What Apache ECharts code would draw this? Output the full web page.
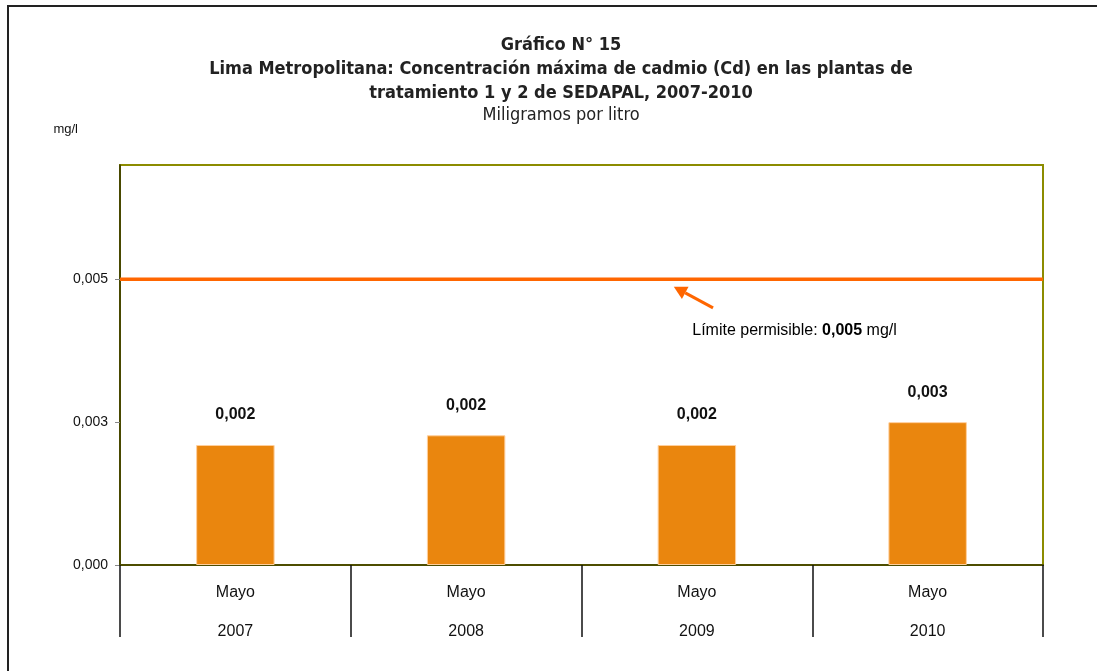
<!DOCTYPE html>
<html>
<head>
<meta charset="utf-8">
<script src="https://cdn.jsdelivr.net/npm/echarts@6/dist/echarts.min.js"></script>
<style>
html,body{margin:0;padding:0;background:#fff;}
#chart{width:1097px;height:671px;}
</style>
</head>
<body>
<div id="chart"></div>
<script>
// ---- data ----
const months = ['Mayo', 'Mayo', 'Mayo', 'Mayo'];
const years = ['2007', '2008', '2009', '2010'];
const cadmio = [0.0021, 0.00227, 0.0021, 0.0025];
const limite = 0.005;
const yTicks = { min: 0, max: 0.007, interval: 0.0025 };
// annotation (data space: category index, value)
const arrowTail = [2.07, 0.00450];
const arrowHead = [1.90, 0.00487];
const noteAnchor = [1.98, 0.00410];

const titleLines = ['Gráfico N° 15',
  'Lima Metropolitana: Concentración máxima de cadmio (Cd) en las plantas de',
  'tratamiento 1 y 2 de SEDAPAL, 2007-2010'];
const subtitle = 'Miligramos por litro';

const fmt = v => v.toFixed(3).replace('.', ',');
const TF = '"Liberation Sans", Arial, sans-serif';
const TTF = '"DejaVu Sans Condensed", "Liberation Sans", sans-serif';

const chart = echarts.init(document.getElementById('chart'));
const option = {
  animation: false,
  backgroundColor: '#fff',
  title: [
    { text: titleLines.join('\n'), left: 556, top: 28, textAlign: 'center',
      textStyle: { fontFamily: TTF, fontSize: 18, fontWeight: 'bold', color: '#222', lineHeight: 24 } },
    { text: subtitle, left: 556, top: 100, textAlign: 'center',
      textStyle: { fontFamily: TTF, fontSize: 18, fontWeight: 'normal', color: '#222', lineHeight: 20 } }
  ],
  grid: { left: 120, right: 54, top: 165, bottom: 106, show: true,
    borderColor: '#8c8c00', borderWidth: 2, backgroundColor: '#fff' },
  xAxis: [{
    type: 'category', data: years,
    axisLine: { lineStyle: { color: '#4d4d00', width: 2 } },
    axisTick: { show: true, length: 72, alignWithLabel: false, interval: 0, lineStyle: { color: '#111', width: 1.5 } },
    axisLabel: { interval: 0, margin: 8,
      formatter: (v, i) => '{a|' + months[i] + '}\n{a|' + v + '}',
      rich: { a: { fontFamily: TF, fontSize: 16, color: '#111', lineHeight: 39 } } }
  }, {
    type: 'value', min: 0, max: 1, show: false
  }],
  yAxis: {
    type: 'value', min: yTicks.min, max: yTicks.max, interval: yTicks.interval,
    name: 'mg/l', nameLocation: 'end', nameGap: 29,
    nameTextStyle: { fontFamily: TF, fontSize: 13, color: '#111', align: 'right', padding: [0, 42, 0, 0] },
    splitLine: { show: false },
    axisLine: { show: true, lineStyle: { color: '#333300', width: 1.5 } },
    axisTick: { show: true, length: 5, lineStyle: { color: '#888' } },
    axisLabel: { fontFamily: TF, fontSize: 14, color: '#111', margin: 12, showMaxLabel: false, formatter: fmt }
  },
  series: [{
    type: 'bar', data: cadmio, barWidth: '34%',
    itemStyle: { color: '#ea860e', borderColor: '#ffcf9c', borderWidth: 1 },
    label: { show: true, position: 'top', distance: 22, formatter: p => fmt(p.value),
      fontFamily: TF, fontSize: 16, fontWeight: 'bold', color: '#111' }
  }, {
    type: 'line', xAxisIndex: 1, yAxisIndex: 0, silent: true,
    data: [[0, limite], [1, limite]], symbol: 'none',
    lineStyle: { color: '#ff6600', width: 3.5 }, z: 5
  }],
  graphic: [{ type: 'rect', shape: { x: 8, y: 6, width: 1200, height: 800 },
    style: { fill: 'none', stroke: '#222', lineWidth: 2 }, silent: true }]
};
chart.setOption(option);

function toPx(pt) {
  const x0 = chart.convertToPixel({ xAxisIndex: 0 }, 0);
  const x1 = chart.convertToPixel({ xAxisIndex: 0 }, 1);
  return [x0 + (x1 - x0) * pt[0], chart.convertToPixel({ yAxisIndex: 0 }, pt[1])];
}
const t = toPx(arrowTail), h = toPx(arrowHead), n = toPx(noteAnchor);
const ang = Math.atan2(h[1] - t[1], h[0] - t[0]);
const L = 13, W = 7;
const bx = h[0] - L * Math.cos(ang), by = h[1] - L * Math.sin(ang);
const px = -Math.sin(ang) * W, py = Math.cos(ang) * W;
chart.setOption({
  graphic: [
    { type: 'rect', shape: { x: 8, y: 6, width: 1200, height: 800 },
      style: { fill: 'none', stroke: '#222', lineWidth: 2 }, silent: true },
    { type: 'line', shape: { x1: t[0], y1: t[1], x2: bx, y2: by },
      style: { stroke: '#ff6600', lineWidth: 3 }, silent: true },
    { type: 'polygon', shape: { points: [h, [bx + px, by + py], [bx - px, by - py]] },
      style: { fill: '#ff6600' }, silent: true },
    { type: 'text', x: n[0], y: n[1],
      style: { text: '{n|Límite permisible: }{b|' + fmt(limite) + '}{n| mg/l}',
        verticalAlign: 'middle', align: 'left',
        rich: { n: { fontFamily: TF, fontSize: 16, color: '#111' },
                b: { fontFamily: TF, fontSize: 16, fontWeight: 'bold', color: '#111' } } }, silent: true }
  ]
});
</script>
</body>
</html>
